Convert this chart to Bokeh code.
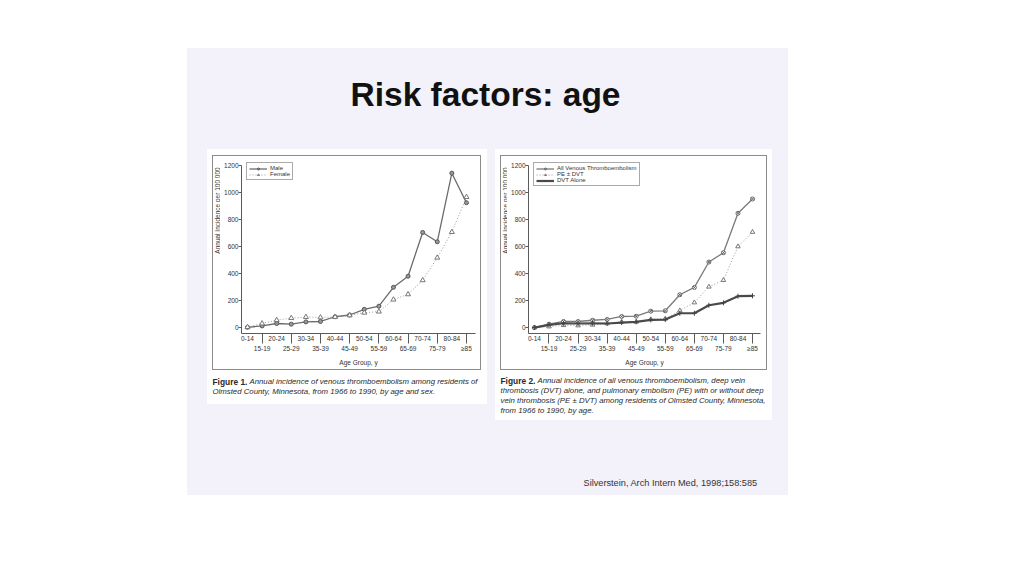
from math import pi

from bokeh.plotting import figure
from bokeh.models import (Label, LinearAxis, FixedTicker, Range1d,
                          Legend, LegendItem, Spacer)
from bokeh.layouts import column, row
from bokeh.embed import file_html
from bokeh.resources import INLINE

# age groups (x categories)
ages = ["0-14", "15-19", "20-24", "25-29", "30-34", "35-39", "40-44", "45-49",
        "50-54", "55-59", "60-64", "65-69", "70-74", "75-79", "80-84", "≥85"]

# Figure 1: by sex
male = [2, 12, 30, 25, 42, 45, 80, 93, 135, 158, 298, 380, 704, 635, 1143, 924]
female = [3, 30, 55, 70, 78, 75, 78, 90, 110, 118, 207, 246, 350, 517, 707, 966]

# Figure 2: by type
all_vte = [0, 25, 45, 45, 54, 60, 82, 84, 121, 124, 243, 297, 485, 554, 846, 952]
pe_dvt = [0, 7, 17, 15, 20, 30, 42, 42, 60, 65, 126, 185, 302, 351, 600, 707]
dvt_alone = [0, 20, 32, 30, 32, 30, 37, 42, 57, 59, 106, 106, 165, 183, 232, 235]

y_ticks = [0, 200, 400, 600, 800, 1000, 1200]

title_text = "Risk factors: age"
cite_text = "Silverstein, Arch Intern Med, 1998;158:585"
y_label = "Annual Incidence per 100 000"
x_label = "Age Group, y"
cap1 = ["Annual incidence of venous thromboembolism among residents of",
        "Olmsted County, Minnesota, from 1966 to 1990, by age and sex."]
cap2 = ["Annual incidence of all venous thromboembolism, deep vein",
        "thrombosis (DVT) alone, and pulmonary embolism (PE) with or without deep",
        "vein thrombosis (PE ± DVT) among residents of Olmsted County, Minnesota,",
        "from 1966 to 1990, by age."]

SLIDE = "#f3f1fa"
FONT = "Liberation Sans"
AX = "#5a5a5a"
TXT = "#2a2a2a"

x = list(range(len(ages)))
even = [i for i in x if i % 2 == 0]
odd = [i for i in x if i % 2 == 1]

bg = {"background-color": SLIDE}
white = {"background-color": "white"}
grey = {"background-color": "#8c8c8c"}


def chart(w, h, border_left, border_right, x0, x1):
    p = figure(width=w, height=h, x_range=Range1d(x0, x1), y_range=Range1d(-44, 1259),
               x_axis_type=None, y_axis_type=None, toolbar_location=None,
               output_backend="svg", min_border_left=border_left,
               min_border_right=border_right, min_border_top=1, min_border_bottom=36,
               background_fill_color="white", border_fill_color="white",
               outline_line_color=None)

    yax = LinearAxis(ticker=FixedTicker(ticks=y_ticks), bounds=(-44, 1200))
    yax.major_tick_out = 3
    yax.major_tick_in = 0
    yax.major_label_standoff = 0
    p.add_layout(yax, "left")

    ax1 = LinearAxis(ticker=FixedTicker(ticks=even),
                     major_label_overrides={i: ages[i] for i in even})
    ax1.major_tick_out = 0
    ax1.major_tick_in = 0
    ax1.major_label_standoff = 2
    p.add_layout(ax1, "below")

    ax2 = LinearAxis(ticker=FixedTicker(ticks=odd),
                     major_label_overrides={i: ages[i] for i in odd},
                     axis_label=x_label)
    ax2.axis_line_color = None
    ax2.major_tick_out = 0
    ax2.major_tick_in = 10
    ax2.major_label_standoff = 1
    ax2.axis_label_standoff = 4
    p.add_layout(ax2, "below")

    for ax in (yax, ax1, ax2):
        ax.minor_tick_out = 0
        ax.minor_tick_in = 0
        ax.minor_tick_line_color = None
        ax.major_label_text_font = FONT
        ax.major_label_text_font_size = "6.5px"
        ax.major_label_text_color = "#333333"
        ax.axis_label_text_font = FONT
        ax.axis_label_text_font_size = "6.5px"
        ax.axis_label_text_font_style = "normal"
        ax.axis_label_text_color = "#333333"
        ax.major_tick_line_color = AX
        if ax is not ax2:
            ax.axis_line_color = AX
    return p


def legend(p, items):
    leg = Legend(items=items, location="top_left", margin=5, padding=2, spacing=0,
                 glyph_height=5, glyph_width=18, label_height=5, label_standoff=3,
                 label_text_font=FONT, label_text_font_size="6px",
                 label_text_color="#333333", border_line_color="#555555",
                 border_line_width=1, background_fill_color="white",
                 background_fill_alpha=1)
    p.add_layout(leg)


def text_fig(w, h, fill):
    return figure(width=w, height=h, x_range=Range1d(0, 1), y_range=Range1d(0, 1),
                  x_axis_type=None, y_axis_type=None, toolbar_location=None,
                  output_backend="svg", min_border=0, background_fill_color=fill,
                  border_fill_color=fill, outline_line_color=None)


def y_title(w, h, cx, cy):
    # narrow strip holding the rotated y axis title
    f = text_fig(w, h, "white")
    f.add_layout(Label(x=cx, y=cy, x_units="screen", y_units="screen", text=y_label,
                       angle=pi / 2, text_align="center", text_baseline="middle",
                       text_font=FONT, text_font_size="6.5px", text_color="#333333"))
    return f


def caption(w, h, fig_name, lines, y_first):
    c = text_fig(w, h, "white")
    c.add_layout(Label(x=5, y=y_first, x_units="screen", y_units="screen", text=fig_name,
                       text_font=FONT, text_font_style="bold", text_font_size="8.4px",
                       text_baseline="middle", text_color=TXT))
    for k, t in enumerate(lines):
        c.add_layout(Label(x=42 if k == 0 else 5, y=y_first - 10 * k,
                           x_units="screen", y_units="screen", text=t,
                           text_font=FONT, text_font_style="italic",
                           text_font_size="7.8px", text_baseline="middle",
                           text_color=TXT))
    return c


def grey_box(inner, w, h):
    # 1px grey frame around the original figure
    return row(Spacer(width=1, height=h + 2, styles=grey),
               column(Spacer(width=w, height=1, styles=grey), inner,
                      Spacer(width=w, height=1, styles=grey)),
               Spacer(width=1, height=h + 2, styles=grey))


# ---- Figure 1 ----
p1 = chart(260, 213, 21, 5, -0.41, 15.62)
m_line = p1.line(x, male, line_color="#6b6b6b", line_width=1.3)
m_pts = p1.scatter(x, male, marker="circle", size=4, fill_color="#9a9a9a",
                   line_color="#555555")
f_line = p1.line(x, female, line_color="#9a9a9a", line_width=1, line_dash="1 2")
f_pts = p1.scatter(x, female, marker="triangle", size=5, fill_color="white",
                   line_color="#777777")
legend(p1, [LegendItem(label="Male", renderers=[m_line, m_pts]),
            LegendItem(label="Female", renderers=[f_line, f_pts])])

panel1 = column(Spacer(width=280, height=6, styles=white),
                row(Spacer(width=5, height=215, styles=white),
                    grey_box(row(y_title(7, 213, 4, 123), p1), 267, 213),
                    Spacer(width=6, height=215, styles=white)),
                caption(280, 34, "Figure 1.", cap1, 23),
                styles=white)

# ---- Figure 2 ----
p2 = chart(259, 213, 21, 6, -0.41, 15.55)
a_line = p2.line(x, all_vte, line_color="#7a7a7a", line_width=1.3)
a_pts = p2.scatter(x, all_vte, marker="circle_x", size=4, fill_color="white",
                   line_color="#666666")
pe_line = p2.line(x, pe_dvt, line_color="#9a9a9a", line_width=1, line_dash="1 2")
pe_pts = p2.scatter(x, pe_dvt, marker="triangle", size=4.5, fill_color="white",
                    line_color="#777777")
d_line = p2.line(x, dvt_alone, line_color="#4a4a4a", line_width=2.2)
d_pts = p2.scatter(x, dvt_alone, marker="cross", size=5, line_color="#444444")
legend(p2, [LegendItem(label="All Venous Thromboembolism", renderers=[a_line, a_pts]),
            LegendItem(label="PE ± DVT", renderers=[pe_line, pe_pts]),
            LegendItem(label="DVT Alone", renderers=[d_line, d_pts])])

panel2 = column(Spacer(width=277, height=6, styles=white),
                row(Spacer(width=5, height=215, styles=white),
                    grey_box(row(y_title(6, 213, 3.5, 123), p2), 265, 213),
                    Spacer(width=5, height=215, styles=white)),
                caption(277, 50, "Figure 2.", cap2, 40),
                styles=white)

# title and citation
tfig = text_fig(601, 101, SLIDE)
tfig.add_layout(Label(x=298, y=55.5, x_units="screen", y_units="screen", text=title_text,
                      text_align="center", text_baseline="alphabetic",
                      text_font=FONT, text_font_style="bold", text_font_size="33.5px",
                      text_color="#111111"))

ffig = text_fig(601, 75, SLIDE)
ffig.add_layout(Label(x=396, y=13, x_units="screen", y_units="screen", text=cite_text,
                      text_baseline="middle", text_font=FONT, text_font_size="9.2px",
                      text_color="#333333"))

panels = row(Spacer(width=20, height=271, styles=bg),
             column(panel1, Spacer(width=280, height=16, styles=bg)),
             Spacer(width=8, height=271, styles=bg),
             panel2,
             Spacer(width=16, height=271, styles=bg),
             styles=bg)
slide = column(tfig, panels, ffig, styles=bg)
page = column(Spacer(width=1008, height=48),
              row(Spacer(width=187, height=447), slide))

open("out.html", "w").write(file_html(page, INLINE))
